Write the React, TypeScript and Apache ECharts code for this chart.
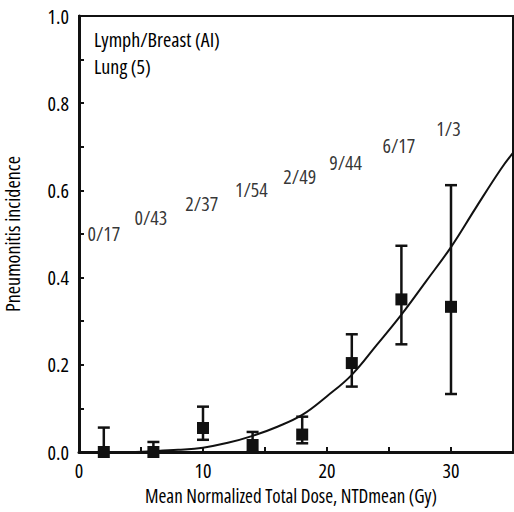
import React, { useEffect, useRef } from "react";
import * as echarts from "echarts";

const doses = [2, 6, 10, 14, 18, 22, 26, 30];
const incidence = [0, 0, 0.055, 0.016, 0.04, 0.204, 0.35, 0.333];
const errLow = [0, 0, 0.028, 0, 0.02, 0.15, 0.247, 0.133];
const errHigh = [0.056, 0.023, 0.104, 0.046, 0.081, 0.27, 0.473, 0.612];

const ratioLabels = ["0/17", "0/43", "2/37", "1/54", "2/49", "9/44", "6/17", "1/3"];
const ratioX = [2.0, 5.8, 9.9, 13.9, 17.8, 21.5, 25.8, 29.8];
const ratioY = [0.502, 0.537, 0.569, 0.601, 0.633, 0.665, 0.704, 0.743];

const fitX = [4, 6, 8, 10, 12, 14, 16, 18, 20, 22, 24, 26, 28, 30, 32, 34, 35];
const fitY = [0, 0.002, 0.005, 0.01, 0.021, 0.037, 0.058, 0.085, 0.128, 0.177, 0.245, 0.315, 0.392, 0.47, 0.56, 0.648, 0.686];

const legendLines = ["Lymph/Breast (AI)", "Lung (5)"];
const xTitle = "Mean Normalized Total Dose, NTDmean (Gy)";
const yTitle = "Pneumonitis incidence";

const FONT = "'Open Sans', sans-serif";
const INK = "#000";

export default function App() {
  const ref = useRef<HTMLDivElement>(null);
  useEffect(() => {
    document.body.style.margin = "0";
    if (!ref.current) return;
    const chart = echarts.init(ref.current, null, { renderer: "svg" });
    const option: any = {
      animation: false,
      backgroundColor: "#ffffff",
      textStyle: { fontFamily: FONT },
      grid: {
        left: 79,
        right: 1,
        top: 16,
        bottom: 60,
        show: true,
        borderColor: "#111",
        borderWidth: 2,
        backgroundColor: "transparent",
        outerBoundsMode: "none",
        containLabel: false,
      },
      xAxis: {
        type: "value",
        min: 0,
        max: 35,
        interval: 5,
        axisLine: { show: true, onZero: false, lineStyle: { color: "#111", width: 3 } },
        axisTick: { show: true, inside: true, length: 5, lineStyle: { color: "#111", width: 2 } },
        axisLabel: {
          fontSize: 20,
          color: INK,
          margin: 8,
          fontFamily: FONT,
          formatter: (v: number) => (Math.round(v) % 10 === 0 && v < 35 ? String(v) : ""),
        },
        splitLine: { show: false },
      },
      yAxis: {
        type: "value",
        min: 0,
        max: 1,
        interval: 0.1,
        name: yTitle,
        nameLocation: "middle",
        nameGap: 57,
        nameTextStyle: { fontSize: 20, color: INK, fontFamily: FONT },
        axisLine: { show: true, lineStyle: { color: "#111", width: 3 } },
        axisTick: { show: true, inside: true, length: 5, lineStyle: { color: "#111", width: 2 } },
        axisLabel: {
          fontSize: 20,
          color: INK,
          margin: 10,
          fontFamily: FONT,
          formatter: (v: number) => (Math.round(v * 10) % 2 === 0 ? v.toFixed(1) : ""),
        },
        splitLine: { show: false },
      },
      graphic: [
        ...legendLines.map((t, i) => ({
          type: "text",
          left: 94,
          top: 29 + i * 27,
          style: { text: t, fontSize: 20, fill: INK, fontFamily: FONT },
        })),
        {
          type: "text",
          x: 291,
          y: 496,
          style: {
            text: xTitle,
            fontSize: 19,
            fill: INK,
            fontFamily: FONT,
            textAlign: "center",
            textVerticalAlign: "middle",
          },
        },
      ],
      series: [
        {
          type: "line",
          data: fitX.map((x, i) => [x, fitY[i]]),
          symbol: "none",
          smooth: 0.4,
          lineStyle: { color: "#111", width: 2 },
          z: 3,
        },
        {
          type: "custom",
          data: doses.map((x, i) => [x, errLow[i], errHigh[i]]),
          renderItem: (params: any, api: any) => {
            const x = api.value(0);
            const lo = api.coord([x, api.value(1)]);
            const hi = api.coord([x, api.value(2)]);
            const hw = 6;
            const style = { stroke: "#111", lineWidth: 2.5 };
            return {
              type: "group",
              children: [
                { type: "line", shape: { x1: hi[0], y1: hi[1], x2: lo[0], y2: lo[1] }, style },
                { type: "line", shape: { x1: hi[0] - hw, y1: hi[1], x2: hi[0] + hw, y2: hi[1] }, style },
                { type: "line", shape: { x1: lo[0] - hw, y1: lo[1], x2: lo[0] + hw, y2: lo[1] }, style },
              ],
            };
          },
          z: 4,
        },
        {
          type: "scatter",
          data: doses.map((x, i) => [x, incidence[i]]),
          symbol: "rect",
          symbolSize: 12,
          itemStyle: { color: "#111", opacity: 1 },
          z: 5,
        },
        {
          type: "scatter",
          data: ratioX.map((x, i) => ({ value: [x, ratioY[i]], name: ratioLabels[i] })),
          symbolSize: 1,
          itemStyle: { color: "rgba(0,0,0,0)" },
          label: {
            show: true,
            position: "inside",
            formatter: (p: any) => p.name,
            fontSize: 20,
            color: INK,
            fontFamily: FONT,
          },
          z: 6,
        },
      ],
    };
    chart.setOption(option);
    return () => chart.dispose();
  }, []);
  return <div ref={ref} style={{ width: 514, height: 512, fontStretch: "condensed" }} />;
}
